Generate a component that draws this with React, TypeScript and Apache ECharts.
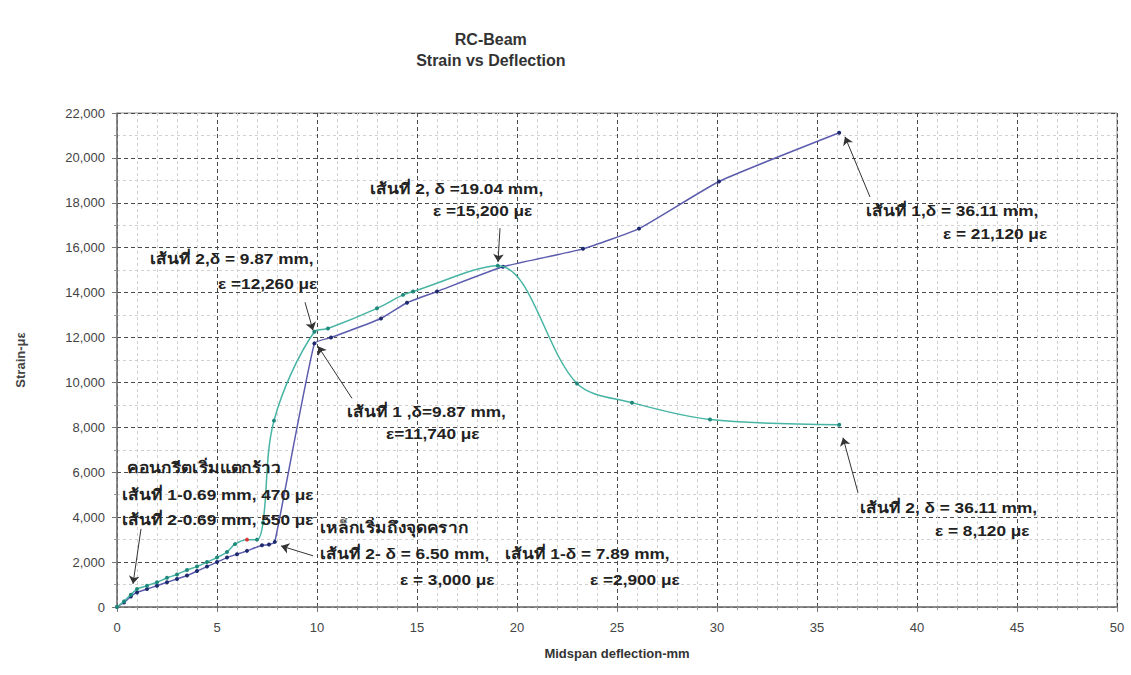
import React, { useEffect, useRef } from "react";
import * as echarts from "echarts";

// Line 1 (เส้นที่ 1): deflection (mm) and strain (με)
const line1Deflection = [0, 0.35, 0.69, 1, 1.5, 2, 2.5, 3, 3.5, 4, 4.5, 5, 5.5, 6, 6.5, 7.25, 7.6, 7.89, 9.87, 10.7, 13.2, 14.5, 16.0, 19.3, 23.3, 26.1, 30.1, 36.11];
const line1Strain = [0, 200, 470, 650, 800, 950, 1100, 1250, 1400, 1600, 1800, 2000, 2200, 2350, 2500, 2750, 2780, 2900, 11740, 12000, 12850, 13550, 14050, 15150, 15950, 16850, 18950, 21120];

// Line 2 (เส้นที่ 2)
const line2Deflection = [0, 0.35, 0.69, 1, 1.5, 2, 2.5, 3, 3.5, 4, 4.5, 5, 5.5, 5.9, 6.5, 7.0, 7.3, 7.85, 9.87, 10.55, 13.0, 14.3, 14.8, 19.04, 23.0, 25.75, 29.65, 36.11];
const line2Strain = [0, 250, 550, 800, 950, 1100, 1300, 1450, 1650, 1800, 2000, 2200, 2450, 2800, 3000, 3000, 3750, 8300, 12260, 12400, 13300, 13900, 14050, 15200, 9950, 9100, 8350, 8120];
const line2RedPointIndex = 14;

// Arrows: tails and tips in data units
const arrowTails = [
  [19.15, 16870], [9.4, 13570], [11.75, 9290], [37.65, 18260], [37.05, 5090], [1.2, 3480], [9.8, 2280],
];
const arrowTips = [
  [19.05, 15360], [9.8, 12320], [10.05, 11610], [36.4, 20940], [36.3, 7540], [0.8, 1030], [8.2, 2720],
];

// Annotation text lines
const annotationTexts = [
  "เส้นที่ 2, δ =19.04 mm,", "ε =15,200 με",
  "เส้นที่ 2,δ = 9.87 mm,", "ε =12,260 με",
  "เส้นที่ 1 ,δ=9.87 mm,", "ε=11,740 με",
  "เส้นที่ 1,δ = 36.11 mm,", "ε = 21,120 με",
  "เส้นที่ 2, δ = 36.11 mm,", "ε = 8,120 με",
  "คอนกรีตเริ่มแตกร้าว", "เส้นที่ 1-0.69 mm, 470 με", "เส้นที่ 2-0.69 mm, 550 με",
  "เหล็กเริ่มถึงจุดคราก", "เส้นที่ 2- δ = 6.50 mm,", "ε = 3,000 με",
  "เส้นที่ 1-δ = 7.89 mm,", "ε =2,900 με",
];
const annotationPos = [
  [370, 188], [433, 210],
  [150, 258], [218, 283],
  [347, 411], [386, 433],
  [866, 210], [943, 233],
  [860, 507], [935, 530],
  [127, 467], [122, 494], [122, 519],
  [320, 527], [320, 553], [400, 579],
  [505, 553], [590, 579],
];

const FONT = '"Liberation Sans", Arial, "Noto Sans", "DejaVu Sans", sans-serif';

export default function App() {
  const ref = useRef<HTMLDivElement>(null);
  useEffect(() => {
    if (!ref.current) return;
    const chart = echarts.init(ref.current, null, { renderer: "svg" });
    const s1 = line1Deflection.map((x, i) => [x, line1Strain[i]]);
    const s2 = line2Deflection.map((x, i) => {
      const p: any = { value: [x, line2Strain[i]] };
      if (i === line2RedPointIndex) p.itemStyle = { color: "#d9383a" };
      return p;
    });
    const arrows = arrowTails.map((t, i) => [
      { coord: t, symbol: "none" },
      { coord: arrowTips[i], symbol: "arrow" },
    ]);
    chart.setOption({
      animation: false,
      backgroundColor: "#ffffff",
      title: {
        text: "RC-Beam\nStrain vs Deflection",
        left: "center",
        top: 24,
        textAlign: "center",
        textStyle: { fontFamily: FONT, fontSize: 16, fontWeight: "bold", color: "#333", lineHeight: 21 },
      },
      grid: { left: 117, right: 14, top: 113, bottom: 68, show: true, borderColor: "#8a8a8a", borderWidth: 1 },
      xAxis: {
        type: "value",
        min: 0,
        max: 50,
        interval: 5,
        name: "Midspan deflection-mm",
        nameLocation: "middle",
        nameGap: 40,
        nameTextStyle: { fontFamily: FONT, fontSize: 13, fontWeight: "bold", color: "#333" },
        axisLine: { show: true, onZero: false, lineStyle: { color: "#777", width: 1.5 } },
        axisTick: { show: true, length: 5, lineStyle: { color: "#777" } },
        minorTick: { show: true, splitNumber: 5, length: 3, lineStyle: { color: "#999" } },
        axisLabel: { fontFamily: FONT, fontSize: 13, color: "#444", margin: 14 },
        splitLine: { show: true, lineStyle: { color: "#4a4a4a", type: [4, 3], width: 1 } },
        minorSplitLine: { show: true, lineStyle: { color: "#d0d0d0", type: [3, 3], width: 1 } },
      },
      yAxis: {
        type: "value",
        min: 0,
        max: 22000,
        interval: 2000,
        name: "Strain-με",
        nameLocation: "middle",
        nameGap: 90,
        nameTextStyle: { fontFamily: FONT, fontSize: 13, fontWeight: "bold", color: "#444" },
        axisLine: { show: true, lineStyle: { color: "#777", width: 1.5 } },
        axisTick: { show: true, length: 5, lineStyle: { color: "#777" } },
        minorTick: { show: true, splitNumber: 2, length: 3, lineStyle: { color: "#999" } },
        axisLabel: {
          fontFamily: FONT,
          fontSize: 13,
          color: "#444",
          margin: 12,
          formatter: (v: number) => v.toLocaleString("en-US"),
        },
        splitLine: { show: true, lineStyle: { color: "#4a4a4a", type: [4, 3], width: 1 } },
        minorSplitLine: { show: true, lineStyle: { color: "#d0d0d0", type: [3, 3], width: 1 } },
      },
      series: [
        {
          type: "line",
          name: "เส้นที่ 1",
          data: s1,
          smooth: 0.15,
          symbol: "circle",
          symbolSize: 4,
          lineStyle: { color: "#5c5cae", width: 1.5 },
          itemStyle: { color: "#1d2a6e" },
          z: 3,
          markLine: {
            silent: true,
            animation: false,
            symbolSize: 8,
            label: { show: false },
            lineStyle: { color: "#333", width: 1, type: "solid" },
            data: arrows,
          },
        },
        {
          type: "line",
          name: "เส้นที่ 2",
          data: s2,
          smooth: 0.33,
          symbol: "circle",
          symbolSize: 4,
          lineStyle: { color: "#47b4a4", width: 1.5 },
          itemStyle: { color: "#1f8a7c" },
          z: 4,
        },
      ],
      graphic: annotationTexts.map((t, i) => ({
        type: "text",
        x: annotationPos[i][0],
        y: annotationPos[i][1],
        scaleX: 1.15,
        z: 10,
        style: {
          text: t,
          fill: "#222",
          font: `bold 15px ${FONT}`,
          align: "left",
          verticalAlign: "middle",
        },
      })),
    });
    return () => chart.dispose();
  }, []);
  return (
    <div
      ref={ref}
      style={{ position: "absolute", left: 0, top: 0, width: 1131, height: 675 }}
    />
  );
}
